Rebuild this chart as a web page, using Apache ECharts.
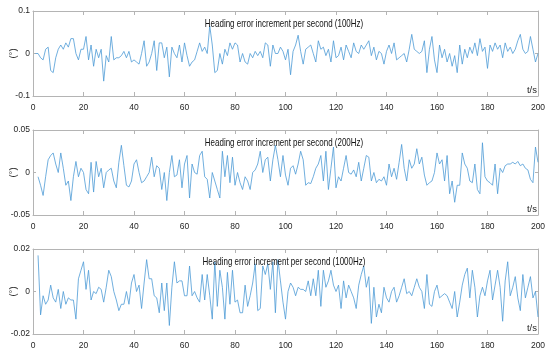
<!DOCTYPE html>
<html>
<head>
<meta charset="utf-8">
<script src="https://cdn.jsdelivr.net/npm/echarts@6/dist/echarts.min.js"></script>
<style>html,body{margin:0;padding:0;background:#fff}#c{width:550px;height:355px}</style>
</head>
<body>
<div id="c"></div>
<script>
// Values are in thousandths of a degree (converted to degrees below).
var titles = [
  'Heading error increment per second (100Hz)',
  'Heading error increment per second (200Hz)',
  'Heading error increment per second (1000Hz)'
];
var yTicks100 = [-0.1, 0, 0.1];
var yTicks200 = [-0.05, 0, 0.05];
var yTicks1000 = [-0.02, 0, 0.02];
var xTicks = [0, 20, 40, 60, 80, 100, 120, 140, 160, 180, 200];
var start100 = 1, start200 = 2, start1000 = 2;

var err100 = [
  0, 0, -10, -15, 10, 15, -40, -45, -10, 10,
  20, 10, 25, 15, 35, 35, 0, -15, 10, 10,
  40, -15, 20, -30, 10, -10, 10, -65, -5, -20,
  40, -15, -10, -10, -5, 5, -10, 5, -20, -15,
  -20, -25, 0, 30, -30, -20, 0, 30, -40, 25,
  25, -10, 15, -55, 15, 0, -10, 20, -20, 25,
  -5, -30, -20, -15, 5, 25, 5, 15, 0, 65,
  20, -45, -40, 0, -25, 10, -5, 25, 10, 25,
  20, -20, 0, -20, -25, 0, -10, 5, -5, 5,
  -10, 25, 20, -30, 20, 0, 0, 15, 5, -15,
  10, -50, 5, 20, 43, 5, -25, 10, 15, 20,
  0, -20, 30, 10, 15, -5, 10, -20, 30, -10,
  -5, 15, -15, 20, 5, -10, 25, 5, 0, 20,
  10, 20, 30, -5, 15, -15, 5, 0, -25, 5,
  20, 0, 25, -15, -10, -5, 0, -20, 10, 45,
  10, 5, 0, 5, 30, -45, 10, 40, -15, -45,
  20, -10, 10, -20, 0, -30, -5, -45, 20, -25,
  10, -10, 15, 0, 25, -5, 35, 5, 15, -35,
  20, 5, 25, 10, 20, -10, 25, 5, 15, 0,
  10, 30, 45, 10, 0, 5, 40, 10, -20, 0
];
var err200 = [
  -5, -15, -27, -5, 15, 20, 23, 10, 0, 23,
  5, -15, -10, -33, -5, 13, -5, 5, 0, -20,
  -25, 12, -23, 13, -5, 5, -18, 0, 3, 5,
  -10, -18, 12, 32, 8, -15, -17, -10, 10, 15,
  0, -12, -10, -5, 0, 18, -5, 8, 5, -20,
  0, -33, 0, 20, -5, -3, 15, -18, 10, 20,
  -30, 10, 0, -2, 20, 25, -5, -8, -30, 0,
  -10, -20, -30, 25, -5, 20, -12, 18, -15, 0,
  -12, -20, -5, -10, -20, 0, 3, 10, 25, 0,
  15, 18, -10, 15, 32,
  15, -5, 20, -3, -15, 5, 8, -2, 10, 25,
  15, -15, -12, -13, -5, 5, 10, 20, -10, 25,
  -20, 5, 30, -18, -5, -10, 5, 20, 0, -2,
  3, -5, 12, -10, 5, 20, 18, -10, 0, -12,
  -8, -10, -5, -15, 10, -5, 5, -8, 12, 33,
  5, -10, 15, 5, 10, 28, 10, 18, -3, -15,
  -12, -10, 0, 23, 10, 15, -10, 20, -25, -10,
  -35, -15, -15, 23, 10, 5, -10, -12, 10, -20,
  -25, 35, -5, -10, -12, -15, 10, -25, 5, 0,
  8, 10, 10, 12, 10, 13, 8, 10, 5, 3,
  -8, -12, 30, 12
];
var err1000 = [
  17, -11, -2, -6, -4, 3, -3, -5, 1, -8,
  0, -6, -3, -4, -4, -13, 6, 10, 14, 1,
  10, -4, 0, -1, 2, 1, -5, 2, 10, 7,
  0, -4, -9, -6, -6, 0, -6, 4, 8, 0,
  3, -8, 4, 15, 6, 6, -2, -3, -10, 4,
  -9, 4, -16, 2, 14, 4, 5, 5, -2, -2,
  12, -2, 0, -3, -5, 8, -4, 8, -2, -13,
  14, -7, 10, 2, -13, 9, -6, 10, -5, -4,
  -10, -10, 3, -7, -2, 4, 13, -9, -8, 12,
  8, 13, 1, 14, -10,
  15, 5, -5, -13, 0, 4, 2, -2, 2, 1,
  1, 0, 5, -2, 6, -2, 10, -7, 10, 2,
  5, 10, 3, 0, 3, -8, 5, -3, 3, 0,
  -3, -8, 3, 8, 12, 2, 7, -15, 2, -12,
  -6, -10, 2, -3, -5, 0, 2, -5, -2, 2,
  6, -1, 0, -2, 2, 6, 2, 0, -8, 8,
  -6, -7, 0, 3, -3, -2, -1, -2, -5, -8,
  0, -12, -5, 3, 8, 11, -3, 10, 2, -12,
  -2, 2, -2, 5, 10, -4, 3, 10, 2, -14,
  5, 14, -2, 2, 7, -3, -9, 8, -3, 2,
  7, -3, 0, -12
];

function pairs(vals, start) {
  return vals.map(function (v, i) { return [start + i, v / 1000]; });
}

var FONT = "'Liberation Sans Narrow', 'Liberation Sans', Arial, sans-serif";
var TXT = '#262626';
var AX = '#b4b4b4';
var LINE = '#4d9ad6';

var gridTops = [11, 130, 249];
var gridH = 85;
var yTickSets = [yTicks100, yTicks200, yTicks1000];
var seriesData = [pairs(err100, start100), pairs(err200, start200), pairs(err1000, start1000)];

var grids = [], xAxes = [], yAxes = [], series = [], graphics = [];
for (var k = 0; k < 3; k++) {
  grids.push({ left: 33, right: 12, top: gridTops[k], height: gridH });
  var yt = yTickSets[k];
  var step = yt[1] - yt[0];
  xAxes.push({
    type: 'value', gridIndex: k, position: 'bottom', min: xTicks[0], max: xTicks[xTicks.length - 1],
    interval: xTicks[1] - xTicks[0],
    axisLine: { show: true, onZero: false, lineStyle: { color: AX, width: 1 } },
    axisTick: { show: true, inside: true, length: 4, lineStyle: { color: AX } },
    axisLabel: { show: true, color: TXT, fontFamily: FONT, fontSize: 8.5, margin: 7 },
    splitLine: { show: false },
    name: 't/s', nameLocation: 'end', nameGap: -1,
    nameTextStyle: { color: TXT, fontFamily: FONT, fontSize: 9.5, align: 'right', verticalAlign: 'bottom', padding: [0, 0, 1, 0] }
  });
  xAxes.push({
    type: 'value', gridIndex: k, position: 'top', min: xTicks[0], max: xTicks[xTicks.length - 1],
    interval: xTicks[1] - xTicks[0],
    axisLine: { show: true, onZero: false, lineStyle: { color: AX, width: 1 } },
    axisTick: { show: true, inside: true, length: 4, lineStyle: { color: AX } },
    axisLabel: { show: false }, splitLine: { show: false }
  });
  yAxes.push({
    type: 'value', gridIndex: k, position: 'left', min: yt[0], max: yt[yt.length - 1], interval: step,
    axisLine: { show: true, onZero: false, lineStyle: { color: AX, width: 1 } },
    axisTick: { show: true, inside: true, length: 3, lineStyle: { color: AX } },
    axisLabel: { show: true, color: TXT, fontFamily: FONT, fontSize: 8.5, margin: 3 },
    splitLine: { show: false }
  });
  yAxes.push({
    type: 'value', gridIndex: k, position: 'right', min: yt[0], max: yt[yt.length - 1], interval: step,
    axisLine: { show: true, onZero: false, lineStyle: { color: AX, width: 1 } },
    axisTick: { show: true, inside: true, length: 3, lineStyle: { color: AX } },
    axisLabel: { show: false }, splitLine: { show: false }
  });
  series.push({
    type: 'line', xAxisIndex: 2 * k, yAxisIndex: 2 * k, data: seriesData[k],
    showSymbol: false, symbol: 'none', animation: false,
    lineStyle: { color: LINE, width: 0.8 }
  });
  graphics.push({
    type: 'text', x: 284, y: gridTops[k] + 8, z: 100, scaleX: 0.76,
    style: { text: titles[k], fill: '#111', font: '10.5px ' + FONT, textAlign: 'center', textVerticalAlign: 'top' }
  });
  graphics.push({
    type: 'text', x: 13, y: gridTops[k] + gridH / 2, rotation: Math.PI / 2, z: 100,
    style: { text: '(°)', fill: TXT, font: '9.5px ' + FONT, textAlign: 'center', textVerticalAlign: 'middle' }
  });
}

var chart = echarts.init(document.getElementById('c'), null, { renderer: 'canvas' });
chart.setOption({
  backgroundColor: '#fff',
  animation: false,
  grid: grids, xAxis: xAxes, yAxis: yAxes, series: series, graphic: graphics
});
</script>
</body>
</html>
